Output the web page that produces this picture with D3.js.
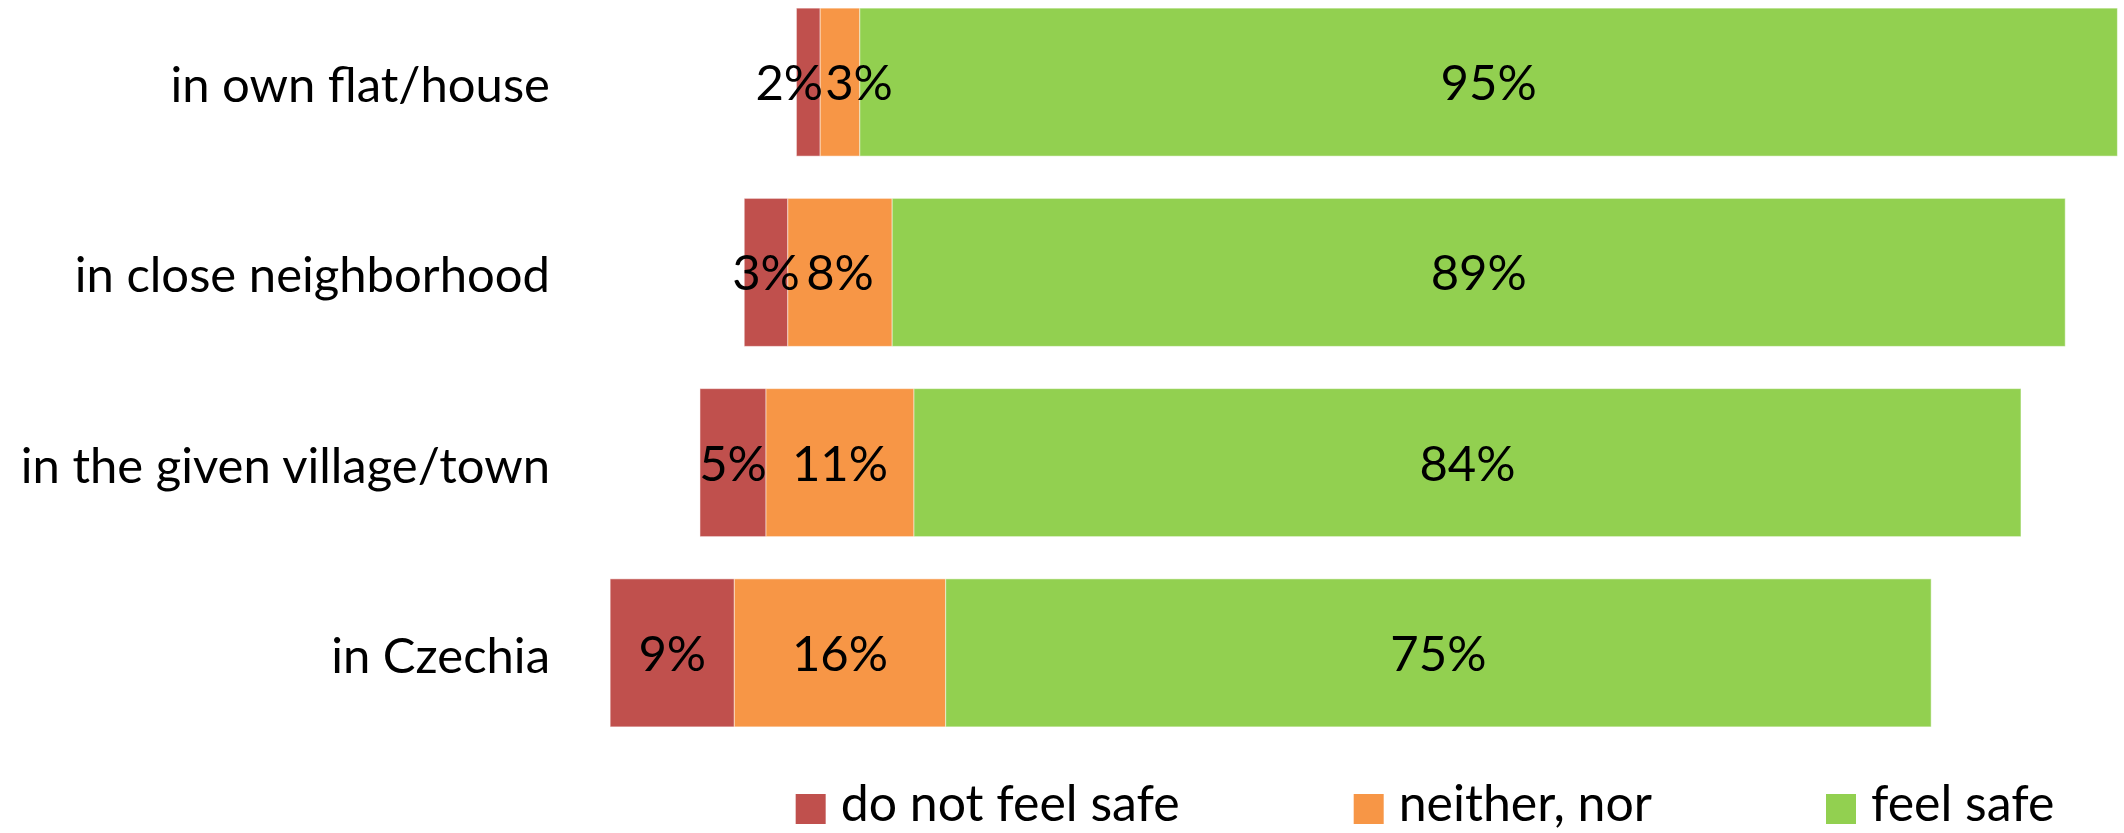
<!DOCTYPE html>
<html>
<head>
<meta charset="utf-8">
<script src="https://cdn.jsdelivr.net/npm/d3@7"></script>
<style>
    body { margin: 0; background: #fff; }
    text { font-family: Lato, "Liberation Sans", sans-serif; fill: #000; }
</style>
</head>
<body>
<script>
const w = 2124;
const h = 833;

// data, in percent
const categories = ["in own flat/house", "in close neighborhood", "in the given village/town", "in Czechia"];
const seriesNames = ["do not feel safe", "neither, nor", "feel safe"];
const notSafe = [1.8, 3.3, 5.0, 9.4];
const neither = [3.0, 7.9, 11.2, 16.0];
const safe = [95.2, 88.8, 83.8, 74.6];
const colors = ["#C0504D", "#F79646", "#92D050"];

const fontSize = 49;
const legendFontSize = 50;

const svg = d3.select("body")
    .append("svg")
    .attr("width", w)
    .attr("height", h)
    ;

// diverging: zero sits in the middle of the "neither" segment
const xScale = d3.scaleLinear()
    .domain([0, 100])
    .range([840, 2161])
    ;

const yScale = d3.scaleBand()
    .domain(categories)
    .range([-13, 748])
    .paddingInner(0.222)
    .paddingOuter(0.111)
    ;

// build segments per category
const segments = [];
categories.forEach((cat, i) => {
    const vals = [notSafe[i], neither[i], safe[i]];
    let start = -(notSafe[i] + neither[i] / 2);
    vals.forEach((v, s) => {
        segments.push({ cat: cat, row: i, series: s, value: v, x0: start, x1: start + v });
        start += v;
    });
});

svg.selectAll("rect.seg")
    .data(segments)
    .enter()
        .append("rect")
        .attr("class", "seg")
        .attr("x", d => xScale(d.x0))
        .attr("y", d => yScale(d.cat))
        .attr("width", d => xScale(d.x1) - xScale(d.x0))
        .attr("height", yScale.bandwidth())
        .attr("fill", d => colors[d.series])
        .attr("stroke", "rgba(255,255,255,0.5)")
        .attr("stroke-width", 1)
    ;

// value labels
const vals = svg.selectAll("text.val")
    .data(segments)
    .enter()
        .append("text")
        .attr("class", "val")
        .attr("y", d => yScale(d.cat) + yScale.bandwidth() / 2 + 18)
        .attr("text-anchor", "middle")
        .style("font-size", fontSize + "px")
        .text(d => Math.round(d.value) + "%")
    ;

// push apart labels that would run into each other
vals.each(function(d) {
    d.cx = xScale((d.x0 + d.x1) / 2);
    d.tw = this.getComputedTextLength();
});
categories.forEach((cat, i) => {
    const row = segments.filter(d => d.row === i);
    for (let k = 0; k < row.length - 1; k++) {
        const a = row[k], b = row[k + 1];
        const overlap = (a.cx + a.tw / 2) - (b.cx - b.tw / 2) + 2;
        if (overlap > 0) {
            a.cx -= overlap / 2;
            b.cx += overlap / 2;
        }
    }
});
vals.attr("x", d => d.cx);

// category labels
svg.selectAll("text.cat")
    .data(categories)
    .enter()
        .append("text")
        .attr("class", "cat")
        .attr("x", 550)
        .attr("y", d => yScale(d) + yScale.bandwidth() / 2 + 20)
        .attr("text-anchor", "end")
        .style("font-size", fontSize + "px")
        .text(d => d)
    ;

// legend, laid out from measured text widths and centred
const legend = svg.append("g");
const items = legend.selectAll("g")
    .data(seriesNames)
    .enter()
    .append("g");

items.append("rect")
    .attr("width", 30)
    .attr("height", 30)
    .attr("y", 794)
    .attr("fill", (d, i) => colors[i]);

items.append("text")
    .attr("x", 45)
    .attr("y", 821)
    .style("font-size", legendFontSize + "px")
    .text(d => d);

let cursor = 0;
const offsets = [];
items.each(function() {
    offsets.push(cursor);
    const tw = d3.select(this).select("text").node().getComputedTextLength();
    cursor += 45 + tw + 174;
});
const totalW = cursor - 174;
const startX = 1425 - totalW / 2;
items.attr("transform", (d, i) => `translate(${startX + offsets[i]},0)`);
</script>
</body>
</html>
